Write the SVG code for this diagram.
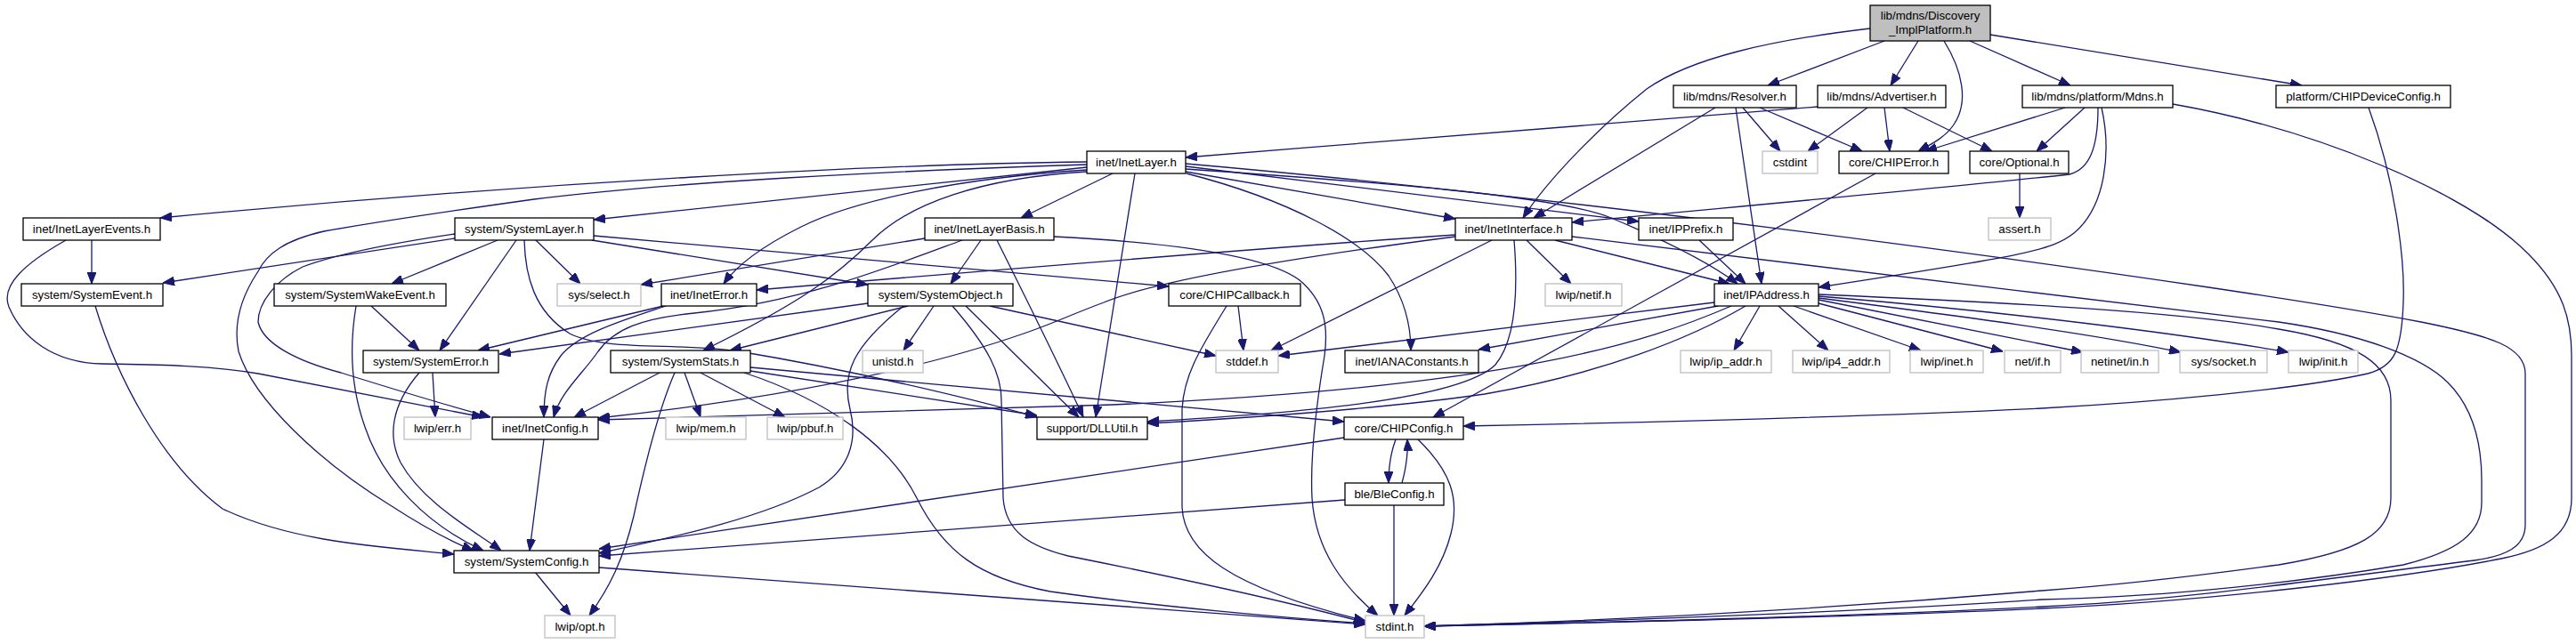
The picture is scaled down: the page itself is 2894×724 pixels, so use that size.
<svg xmlns="http://www.w3.org/2000/svg" width="2894" height="724" viewBox="0 0 2894 724">
<style>
.n rect{fill:#fff;stroke:#000;stroke-width:1.3}
.g rect{fill:#fff;stroke:#bfbfbf;stroke-width:1.3}
.r rect{fill:#bfbfbf;stroke:#000;stroke-width:1.3}
text{font-family:"Liberation Sans",Arial,Helvetica,sans-serif;font-size:13.3px;fill:#000;text-anchor:middle}
#edges path{fill:none;stroke:#191970;stroke-width:1.3;marker-end:url(#a)}
</style>
<defs>
<marker id="a" viewBox="0 0 13 10" refX="13" refY="5" markerWidth="13" markerHeight="10" markerUnits="userSpaceOnUse" orient="auto">
<path d="M0,0 L13,5 L0,10 z" fill="#191970" stroke="#191970" stroke-width="1"/>
</marker>
</defs>
<rect width="2894" height="724" fill="#fff"/>
<g id="edges">
<path d="M2117,46 L1986,96"/>
<path d="M2155,46 L2124,96"/>
<path d="M2184,46 C2205,80 2212,115 2195,140 C2185,155 2168,163 2155,170"/>
<path d="M2213,46 L2326,96"/>
<path d="M2236,39 L2586,96"/>
<path d="M2101,32 C1990,45 1900,65 1850,100 C1800,140 1740,200 1711,245"/>
<path d="M1927,121 L1723,245"/>
<path d="M1950,121 L1979,319"/>
<path d="M1958,121 L2000,170"/>
<path d="M1977,121 L2092,170"/>
<path d="M2042,120 C1900,132 1600,155 1332,177"/>
<path d="M2098,121 L2031,170"/>
<path d="M2117,121 L2123,170"/>
<path d="M2138,121 L2238,170"/>
<path d="M2320,121 L2163,170"/>
<path d="M2342,121 L2288,170"/>
<path d="M2357,121 C2357,165 2348,190 2325,196 C2200,210 1900,237 1766,250"/>
<path d="M2361,121 C2372,170 2366,232 2330,262 C2305,282 2270,288 2043,323"/>
<path d="M2441,117 C2600,145 2770,215 2840,285 C2880,325 2889,360 2889,400 L2889,560 C2889,600 2860,618 2810,628 C2700,650 2480,676 2294,684 C2100,693 1800,700 1600,704"/>
<path d="M2661,121 C2690,200 2702,290 2700,340 C2698,395 2690,412 2660,420 C2580,438 2420,452 2294,459 C2100,468 1850,475 1644,479"/>
<path d="M1221,182 C1000,184 600,205 180,245"/>
<path d="M1221,185 C1000,192 750,205 600,224 C500,238 420,250 364,260 C320,270 300,285 290,305 C270,335 262,365 268,395 C285,450 360,520 440,569 C480,595 510,610 532,619"/>
<path d="M1221,188 L667,247"/>
<path d="M1221,191 C1080,200 960,225 900,255 C860,275 830,295 813,319"/>
<path d="M1221,193 C1100,200 1020,230 980,270 C940,310 900,340 790,394"/>
<path d="M1250,195 L1147,245"/>
<path d="M1275,195 L1231,469"/>
<path d="M1332,193 L1635,246"/>
<path d="M1332,187 L1841,249"/>
<path d="M1332,190 C1550,205 1750,220 1810,245 C1870,270 1920,295 1952,319"/>
<path d="M1333,195 C1450,225 1530,270 1560,310 C1580,340 1585,370 1585,394"/>
<path d="M1332,184 C1800,225 2500,320 2720,362 C2800,378 2837,390 2837,420 L2837,590 C2837,615 2815,625 2780,630 C2600,652 2450,675 2294,682 C2100,692 1800,700 1600,704"/>
<path d="M103,270 L103,319"/>
<path d="M74,270 C30,295 0,320 10,345 C25,380 60,408 115,409 C170,410 230,410 290,420 C380,438 470,455 543,469"/>
<path d="M511,268 L183,318"/>
<path d="M511,263 C450,272 380,285 340,300 C310,315 290,340 290,362 C295,385 330,405 383,419 C450,440 500,455 551,469"/>
<path d="M559,270 L440,319"/>
<path d="M580,270 L494,394"/>
<path d="M589,270 C590,310 600,350 640,375 C680,395 760,385 830,395 C950,415 1080,445 1165,469"/>
<path d="M602,270 L652,319"/>
<path d="M665,270 L975,320"/>
<path d="M667,265 L1313,322"/>
<path d="M1039,268 L720,320"/>
<path d="M1102,270 L1068,319"/>
<path d="M1120,270 C1150,330 1185,400 1217,469"/>
<path d="M1184,266 C1300,272 1420,285 1460,315 C1490,340 1492,370 1488,400 C1478,460 1472,520 1474,560 C1478,620 1510,660 1548,692"/>
<path d="M1081,270 C1000,300 900,340 780,352 C720,358 690,370 672,395 C655,420 630,440 622,469"/>
<path d="M107,344 C130,420 180,520 250,572 C330,610 430,615 510,623"/>
<path d="M417,344 L471,394"/>
<path d="M400,344 C394,380 392,430 410,480 C430,540 480,590 543,619"/>
<path d="M745,344 L537,394"/>
<path d="M748,344 C700,360 650,375 630,400 C615,420 611,440 611,469"/>
<path d="M975,341 L561,398"/>
<path d="M1020,344 L820,394"/>
<path d="M1049,344 L1015,394"/>
<path d="M1112,344 L1366,400"/>
<path d="M1085,344 L1212,469"/>
<path d="M1070,344 C1110,390 1125,420 1125,450 L1127,560 C1130,600 1160,615 1200,625 C1350,655 1460,680 1534,700"/>
<path d="M1015,344 C958,390 945,420 955,460 C965,500 950,530 920,548 C850,585 750,605 673,622"/>
<path d="M1391,344 L1397,394"/>
<path d="M1378,344 C1350,390 1330,420 1328,460 L1328,570 C1330,620 1380,660 1534,698"/>
<path d="M1635,264 C1400,280 1100,305 850,326"/>
<path d="M1635,266 C1450,290 1300,315 1240,340 C1200,355 1180,365 1150,375 C1050,410 900,445 672,470"/>
<path d="M1676,270 L1428,394"/>
<path d="M1701,270 C1705,320 1705,380 1680,410 C1640,450 1450,465 1289,474"/>
<path d="M1715,270 L1765,319"/>
<path d="M1747,270 L1943,319"/>
<path d="M1766,266 C1950,290 2300,330 2560,362 C2650,375 2720,400 2750,430 C2780,460 2788,500 2788,540 L2788,565 C2788,600 2760,620 2700,635 C2550,660 2400,672 2294,674 C2100,688 1800,698 1600,704"/>
<path d="M1909,270 L1961,319"/>
<path d="M1926,340 L1436,400"/>
<path d="M1930,344 L1661,393"/>
<path d="M1945,344 C1850,385 1700,435 1250,455 C1000,462 800,467 672,472"/>
<path d="M1961,344 C1900,380 1800,420 1668,443 C1550,460 1400,470 1289,476"/>
<path d="M1977,344 L1948,394"/>
<path d="M1998,344 L2054,394"/>
<path d="M2015,344 L2158,394"/>
<path d="M2043,341 L2250,395"/>
<path d="M2043,337 L2340,396"/>
<path d="M2043,335 C2200,355 2350,375 2450,396"/>
<path d="M2043,333 C2250,350 2450,375 2571,396"/>
<path d="M2043,331 C2250,340 2450,350 2560,370 C2650,385 2686,410 2686,450 L2686,560 C2686,600 2650,620 2560,635 C2450,650 2350,660 2294,664 C2050,685 1800,698 1600,704"/>
<path d="M2107,195 L1610,469"/>
<path d="M2269,195 L2269,245"/>
<path d="M1568,494 C1562,510 1560,525 1560,543"/>
<path d="M1575,543 C1580,525 1582,510 1581,494"/>
<path d="M1510,492 L673,617"/>
<path d="M1593,494 C1630,530 1640,560 1630,600 C1620,640 1595,670 1578,692"/>
<path d="M1511,562 L673,625"/>
<path d="M1566,568 L1566,692"/>
<path d="M611,494 L595,619"/>
<path d="M486,419 L489,469"/>
<path d="M471,419 C440,455 435,490 450,520 C475,565 530,595 563,619"/>
<path d="M741,419 L645,469"/>
<path d="M758,419 C740,460 725,520 712,580 C700,630 685,660 662,692"/>
<path d="M769,419 L787,469"/>
<path d="M787,419 L882,469"/>
<path d="M843,417 L1165,467"/>
<path d="M843,413 L1510,474"/>
<path d="M836,419 C930,450 1000,500 1030,560 C1060,620 1100,650 1180,665 C1300,682 1450,695 1534,701"/>
<path d="M601,643 L641,692"/>
<path d="M673,638 L1534,702"/>
</g>
<g id="root" class="r"><rect x="2101" y="6" width="135" height="40"/><text x="2168.5" y="22">lib/mdns/Discovery</text><text x="2168.5" y="38">_ImplPlatform.h</text></g>
<g id="resolver" class="n"><rect x="1880" y="96" width="138" height="25"/><text x="1949" y="113">lib/mdns/Resolver.h</text></g>
<g id="advertiser" class="n"><rect x="2042" y="96" width="144" height="25"/><text x="2114" y="113">lib/mdns/Advertiser.h</text></g>
<g id="mdns" class="n"><rect x="2272" y="96" width="169" height="25"/><text x="2356.5" y="113">lib/mdns/platform/Mdns.h</text></g>
<g id="chipdeviceconfig" class="n"><rect x="2557" y="96" width="196" height="25"/><text x="2655" y="113">platform/CHIPDeviceConfig.h</text></g>
<g id="inetlayer" class="n"><rect x="1221" y="170" width="111" height="25"/><text x="1276.5" y="187">inet/InetLayer.h</text></g>
<g id="cstdint" class="g"><rect x="1980" y="170" width="62" height="25"/><text x="2011" y="187">cstdint</text></g>
<g id="chiperror" class="n"><rect x="2066" y="170" width="123" height="25"/><text x="2127.5" y="187">core/CHIPError.h</text></g>
<g id="optional" class="n"><rect x="2213" y="170" width="111" height="25"/><text x="2268.5" y="187">core/Optional.h</text></g>
<g id="inetlayerevents" class="n"><rect x="26" y="245" width="154" height="25"/><text x="103" y="262">inet/InetLayerEvents.h</text></g>
<g id="systemlayer" class="n"><rect x="511" y="245" width="156" height="25"/><text x="589" y="262">system/SystemLayer.h</text></g>
<g id="inetlayerbasis" class="n"><rect x="1039" y="245" width="145" height="25"/><text x="1111.5" y="262">inet/InetLayerBasis.h</text></g>
<g id="inetinterface" class="n"><rect x="1635" y="245" width="131" height="25"/><text x="1700.5" y="262">inet/InetInterface.h</text></g>
<g id="ipprefix" class="n"><rect x="1841" y="245" width="106" height="25"/><text x="1894" y="262">inet/IPPrefix.h</text></g>
<g id="assert" class="g"><rect x="2234" y="245" width="70" height="25"/><text x="2269" y="262">assert.h</text></g>
<g id="systemevent" class="n"><rect x="24" y="319" width="159" height="25"/><text x="103.5" y="336">system/SystemEvent.h</text></g>
<g id="systemwakeevent" class="n"><rect x="308" y="319" width="193" height="25"/><text x="404.5" y="336">system/SystemWakeEvent.h</text></g>
<g id="select" class="g"><rect x="626" y="319" width="94" height="25"/><text x="673" y="336">sys/select.h</text></g>
<g id="ineterror" class="n"><rect x="743" y="319" width="107" height="25"/><text x="796.5" y="336">inet/InetError.h</text></g>
<g id="systemobject" class="n"><rect x="975" y="319" width="163" height="25"/><text x="1056.5" y="336">system/SystemObject.h</text></g>
<g id="chipcallback" class="n"><rect x="1313" y="319" width="148" height="25"/><text x="1387" y="336">core/CHIPCallback.h</text></g>
<g id="netif" class="g"><rect x="1736" y="319" width="86" height="25"/><text x="1779" y="336">lwip/netif.h</text></g>
<g id="ipaddress" class="n"><rect x="1926" y="319" width="117" height="25"/><text x="1984.5" y="336">inet/IPAddress.h</text></g>
<g id="systemerror" class="n"><rect x="408" y="394" width="152" height="25"/><text x="484" y="411">system/SystemError.h</text></g>
<g id="systemstats" class="n"><rect x="686" y="394" width="157" height="25"/><text x="764.5" y="411">system/SystemStats.h</text></g>
<g id="unistd" class="g"><rect x="969" y="394" width="68" height="25"/><text x="1003" y="411">unistd.h</text></g>
<g id="stddef" class="g"><rect x="1366" y="394" width="70" height="25"/><text x="1401" y="411">stddef.h</text></g>
<g id="ianaconstants" class="n"><rect x="1511" y="394" width="150" height="25"/><text x="1586" y="411">inet/IANAConstants.h</text></g>
<g id="ip_addr" class="g"><rect x="1888" y="394" width="102" height="25"/><text x="1939" y="411">lwip/ip_addr.h</text></g>
<g id="ip4_addr" class="g"><rect x="2014" y="394" width="109" height="25"/><text x="2068.5" y="411">lwip/ip4_addr.h</text></g>
<g id="lwipinet" class="g"><rect x="2146" y="394" width="82" height="25"/><text x="2187" y="411">lwip/inet.h</text></g>
<g id="netif_h" class="g"><rect x="2252" y="394" width="63" height="25"/><text x="2283.5" y="411">net/if.h</text></g>
<g id="netinet_in" class="g"><rect x="2338" y="394" width="87" height="25"/><text x="2381.5" y="411">netinet/in.h</text></g>
<g id="sys_socket" class="g"><rect x="2449" y="394" width="98" height="25"/><text x="2498" y="411">sys/socket.h</text></g>
<g id="lwip_init" class="g"><rect x="2571" y="394" width="78" height="25"/><text x="2610" y="411">lwip/init.h</text></g>
<g id="lwip_err" class="g"><rect x="454" y="469" width="75" height="25"/><text x="491.5" y="486">lwip/err.h</text></g>
<g id="inetconfig" class="n"><rect x="553" y="469" width="119" height="25"/><text x="612.5" y="486">inet/InetConfig.h</text></g>
<g id="lwip_mem" class="g"><rect x="748" y="469" width="90" height="25"/><text x="793" y="486">lwip/mem.h</text></g>
<g id="lwip_pbuf" class="g"><rect x="862" y="469" width="85" height="25"/><text x="904.5" y="486">lwip/pbuf.h</text></g>
<g id="dllutil" class="n"><rect x="1165" y="469" width="124" height="25"/><text x="1227" y="486">support/DLLUtil.h</text></g>
<g id="chipconfig" class="n"><rect x="1510" y="469" width="134" height="25"/><text x="1577" y="486">core/CHIPConfig.h</text></g>
<g id="bleconfig" class="n"><rect x="1511" y="543" width="111" height="25"/><text x="1566.5" y="560">ble/BleConfig.h</text></g>
<g id="systemconfig" class="n"><rect x="510" y="619" width="163" height="25"/><text x="591.5" y="636">system/SystemConfig.h</text></g>
<g id="lwip_opt" class="g"><rect x="612" y="692" width="79" height="25"/><text x="651.5" y="709">lwip/opt.h</text></g>
<g id="stdint" class="g"><rect x="1534" y="692" width="66" height="25"/><text x="1567" y="709">stdint.h</text></g>
</svg>
